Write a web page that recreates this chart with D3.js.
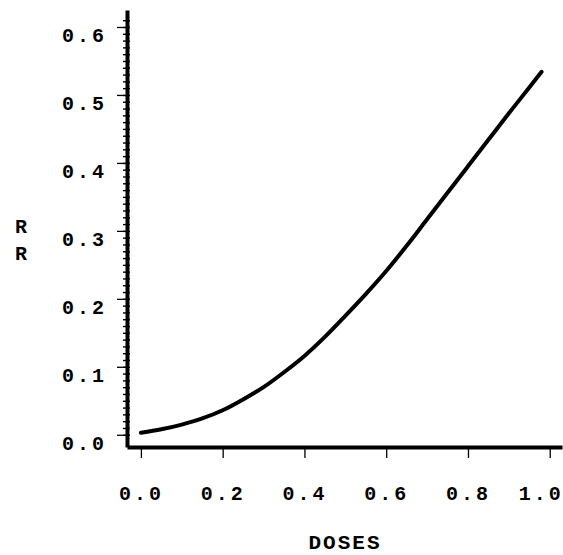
<!DOCTYPE html>
<html>
<head>
<meta charset="utf-8">
<script src="https://cdn.jsdelivr.net/npm/d3@7"></script>
<style>
  body { margin: 0; background: #fff; }
  svg text { font-family: "Courier New", "Liberation Mono", monospace; font-weight: bold; fill: #000; }
</style>
</head>
<body>
<div id="container"></div>
<script>
// values
var doses = [0.00, 0.05, 0.10, 0.15, 0.20, 0.25, 0.30, 0.35, 0.40, 0.45, 0.50,
             0.55, 0.60, 0.65, 0.70, 0.75, 0.80, 0.85, 0.90, 0.95, 0.98];
var rr = [0.003, 0.008, 0.015, 0.024, 0.036, 0.052, 0.070, 0.092, 0.116, 0.144, 0.175,
          0.207, 0.241, 0.278, 0.317, 0.356, 0.395, 0.434, 0.473, 0.511, 0.534];
var xTicks = [0.0, 0.2, 0.4, 0.6, 0.8, 1.0];
var yTicks = [0.0, 0.1, 0.2, 0.3, 0.4, 0.5, 0.6];
var yMinor = d3.range(0, 62).map(function (i) { return i / 100; });

var w = 563, h = 555;
var axisX = 127, axisY = 447;

var x = d3.scaleLinear().domain([-0.034, 1.03]).range([axisX, 562]);
var y = d3.scaleLinear().domain([-0.018, 0.625]).range([axisY, 10]);

var svg = d3.select("#container").append("svg")
  .attr("width", w)
  .attr("height", h);

// y axis: minor ticks straddle the line, major ones stick out left
var yMin = svg.append("g")
  .attr("transform", "translate(" + (axisX + 3) + ",0)")
  .call(d3.axisLeft(y).tickValues(yMinor).tickSize(7).tickFormat(""));
yMin.select(".domain").remove();
yMin.selectAll("line").attr("stroke-width", 1.4);

var yAx = svg.append("g")
  .attr("transform", "translate(" + axisX + ",0)")
  .call(d3.axisLeft(y).tickValues(yTicks).tickSize(10).tickSizeOuter(0).tickPadding(10)
    .tickFormat(d3.format(".1f")));
yAx.select(".domain").attr("stroke-width", 4);
yAx.selectAll("line").attr("stroke-width", 1.3);
yAx.selectAll("text")
  .attr("dy", 15)
  .style("font-size", "20px")
  .style("letter-spacing", "3px");

// x axis
var xAx = svg.append("g")
  .attr("transform", "translate(0," + axisY + ")")
  .call(d3.axisBottom(x).tickValues(xTicks).tickSize(11).tickSizeOuter(0)
    .tickFormat(d3.format(".1f")));
xAx.select(".domain").attr("stroke-width", 4);
xAx.selectAll("line").attr("stroke-width", 1.3);
xAx.selectAll("text")
  .attr("y", 53)
  .attr("dy", 0)
  .style("font-size", "20px")
  .style("letter-spacing", "3px");
xAx.selectAll("text").filter(function (d) { return d === 1; }).attr("dx", -9);

// the curve
var line = d3.line()
  .x(function (d, i) { return x(doses[i]); })
  .y(function (d) { return y(d); })
  .curve(d3.curveMonotoneX);

svg.append("path")
  .datum(rr)
  .attr("d", line)
  .attr("fill", "none")
  .attr("stroke", "#000")
  .attr("stroke-width", 4)
  .attr("stroke-linecap", "round");

// axis titles
svg.append("text")
  .attr("x", 345)
  .attr("y", 549)
  .attr("text-anchor", "middle")
  .style("font-size", "21px")
  .style("letter-spacing", "2px")
  .text("DOSES");

svg.append("g").selectAll("text")
  .data(["R", "R"])
  .enter().append("text")
  .attr("x", 21)
  .attr("y", function (d, i) { return 233 + i * 27; })
  .attr("text-anchor", "middle")
  .style("font-size", "20px")
  .text(function (d) { return d; });
</script>
</body>
</html>
